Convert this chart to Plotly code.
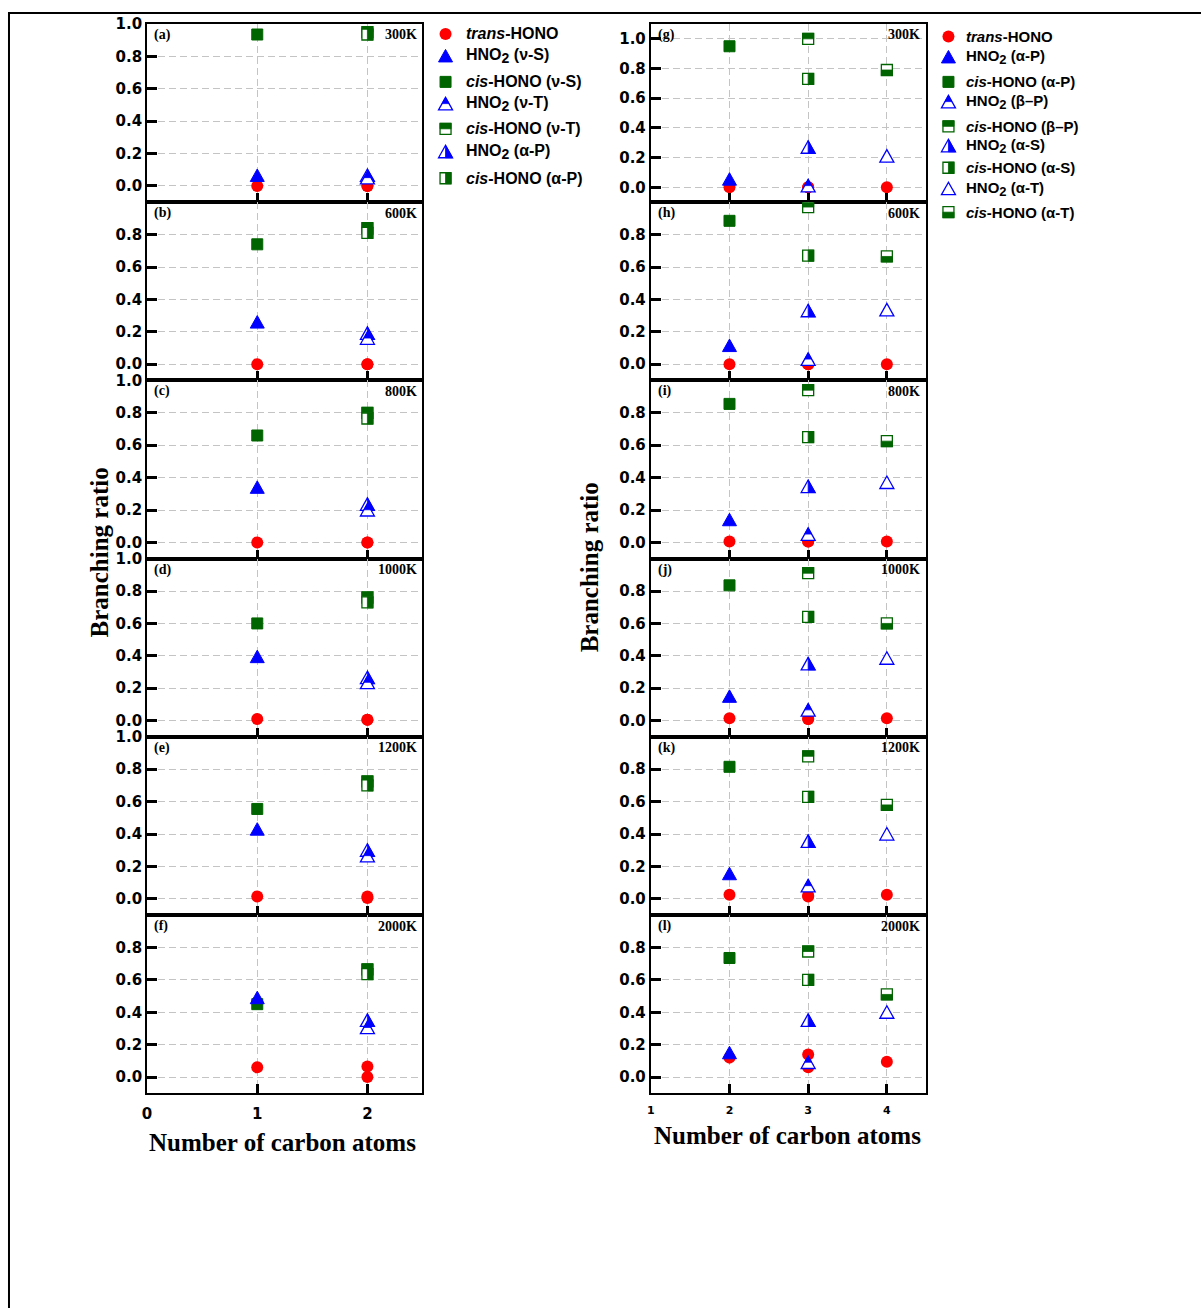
import plotly.graph_objects as go

W, H = 1201, 1308

temperatures = ["300K", "600K", "800K", "1000K", "1200K", "2000K"]
tags_left = ["(a)", "(b)", "(c)", "(d)", "(e)", "(f)"]
tags_right = ["(g)", "(h)", "(i)", "(j)", "(k)", "(l)"]

# ---- left column: C1 (nu-S) and C2 (nu-T, alpha-P) channels ----
trans_nuS = [0.0, 0.0, 0.0, 0.01, 0.015, 0.06]
hno2_nuS = [0.065, 0.26, 0.34, 0.395, 0.43, 0.49]
cis_nuS = [0.935, 0.74, 0.66, 0.60, 0.555, 0.45]

trans_nuT = [0.0, 0.0, 0.0, 0.005, 0.015, 0.065]
hno2_nuT = [0.05, 0.16, 0.20, 0.235, 0.265, 0.305]
cis_nuT = [0.95, 0.84, 0.80, 0.76, 0.725, 0.665]

trans_aP = [0.0, 0.0, 0.0, 0.005, 0.005, 0.0]
hno2_aP = [0.065, 0.19, 0.235, 0.265, 0.30, 0.35]
cis_aP = [0.935, 0.81, 0.765, 0.73, 0.70, 0.635]

# ---- right column: C2 (alpha-P), C3 (beta-P, alpha-S), C4 (alpha-T) ----
trans_aP_r = [0.0, 0.0, 0.005, 0.015, 0.025, 0.12]
hno2_aP_r = [0.055, 0.115, 0.14, 0.15, 0.155, 0.15]
cis_aP_r = [0.95, 0.885, 0.855, 0.835, 0.815, 0.735]

trans_bP = [0.0, 0.0, 0.005, 0.01, 0.02, 0.14]
hno2_bP = [0.01, 0.03, 0.05, 0.065, 0.08, 0.09]
cis_bP = [1.0, 0.97, 0.94, 0.91, 0.88, 0.775]

trans_aS = [0.0, 0.0, 0.005, 0.01, 0.015, 0.06]
hno2_aS = [0.27, 0.33, 0.345, 0.35, 0.355, 0.35]
cis_aS = [0.73, 0.67, 0.65, 0.64, 0.63, 0.60]

trans_aT = [0.0, 0.0, 0.005, 0.015, 0.025, 0.095]
hno2_aT = [0.21, 0.335, 0.37, 0.385, 0.40, 0.40]
cis_aT = [0.79, 0.665, 0.625, 0.60, 0.58, 0.51]

left_ticks_x = [0, 1, 2]
right_ticks_x = [1, 2, 3, 4]

RED, BLUE, GREEN = "#ff0000", "#0000ff", "#006400"

# series drawn in each column: (carbon number, values, symbol kind)
left_marks = [
    (1, cis_nuS, "sq_full"),
    (2, cis_nuT, "sq_top"),
    (2, cis_aP, "sq_right"),
    (1, hno2_nuS, "tri_full"),
    (2, hno2_aP, "tri_right"),
    (2, hno2_nuT, "tri_top"),
]
left_trans = [(1, trans_nuS), (2, trans_nuT), (2, trans_aP)]

right_marks = [
    (2, cis_aP_r, "sq_full"),
    (3, cis_bP, "sq_top"),
    (3, cis_aS, "sq_right"),
    (4, cis_aT, "sq_bottom"),
    (2, hno2_aP_r, "tri_full"),
    (3, hno2_aS, "tri_right"),
    (3, hno2_bP, "tri_top"),
    (4, hno2_aT, "tri_open"),
]
right_trans = [(2, trans_aP_r), (3, trans_bP), (3, trans_aS), (4, trans_aT)]


def hno2(ch, sz):
    return f"<b>HNO<sub><span style='font-size:{sz}px'>2</span></sub> ({ch})</b>"


def cis(ch):
    return f"<b><i>cis</i>-HONO ({ch})</b>"


TRANS = "<b><i>trans</i>-HONO</b>"

legend_left = [
    (TRANS, "circle"),
    (hno2("ν-S", 14), "tri_full"),
    (cis("ν-S"), "sq_full"),
    (hno2("ν-T", 14), "tri_top"),
    (cis("ν-T"), "sq_top"),
    (hno2("α-P", 14), "tri_right"),
    (cis("α-P"), "sq_right"),
]
legend_right = [
    (TRANS, "circle"),
    (hno2("α-P", 13), "tri_full"),
    (cis("α-P"), "sq_full"),
    (hno2("β–P", 13), "tri_top"),
    (cis("β–P"), "sq_top"),
    (hno2("α-S", 13), "tri_right"),
    (cis("α-S"), "sq_right"),
    (hno2("α-T", 13), "tri_open"),
    (cis("α-T"), "sq_bottom"),
]

# ---- symbol outlines in pixels (y up), used for the half-filled styles ----
def poly(pts):
    return "M " + " L ".join(f"{x:g} {y:g}" for x, y in pts) + " Z"

TA, TB, TW, SH = 6.5, 6.0, 7.0, 5.5
TRI = [(0, TA), (-TW, -TB), (TW, -TB)]
mid = (TA - TB) / 2
hw = TW * (TA - mid) / (TA + TB)
TRI_TOP = [(0, TA), (-hw, mid), (hw, mid)]
TRI_RIGHT = [(0, TA), (0, -TB), (TW, -TB)]
SQ = [(-SH, -SH), (SH, -SH), (SH, SH), (-SH, SH)]
SQ_TOP = [(-SH, 0), (SH, 0), (SH, SH), (-SH, SH)]
SQ_RIGHT = [(0, -SH), (SH, -SH), (SH, SH), (0, SH)]
SQ_BOTTOM = [(-SH, -SH), (SH, -SH), (SH, 0), (-SH, 0)]
PART = {"tri_top": TRI_TOP, "tri_right": TRI_RIGHT, "sq_top": SQ_TOP,
        "sq_right": SQ_RIGHT, "sq_bottom": SQ_BOTTOM}


def symbol_shapes(kind, xref, yref, xa, ya):
    base = dict(type="path", xref=xref, yref=yref, xsizemode="pixel",
                ysizemode="pixel", xanchor=xa, yanchor=ya, layer="above")
    if kind == "circle":
        return [dict(base, type="circle", x0=-6, x1=6, y0=-6, y1=6,
                     fillcolor=RED, line=dict(color=RED, width=0))]
    color = GREEN if kind.startswith("sq") else BLUE
    outline = SQ if kind.startswith("sq") else TRI
    if kind.endswith("full"):
        return [dict(base, path=poly(outline), fillcolor=color,
                     line=dict(color=color, width=1))]
    out = [dict(base, path=poly(outline), fillcolor="white",
                line=dict(color=color, width=1.3))]
    if kind in PART:
        out.append(dict(base, path=poly(PART[kind]), fillcolor=color,
                        line=dict(color=color, width=0.8)))
    return out


# page position (pixels from top-left) -> paper fraction
def px(x):
    return ((x - 4.5) / 0.998) / W


def py(y):
    return 1 - ((y - 8) / 0.9947) / H


fig = go.Figure()
shapes = []
annotations = []

row_edges = [23 + i * 178.5 for i in range(7)]
col_left = (146.9, 422.9)
col_right = (651.7, 927.7)

AX = dict(showline=True, linewidth=2, linecolor="black", mirror=True,
          ticks="inside", tickwidth=3, tickcolor="black", zeroline=False,
          showgrid=True, gridcolor="#c4c4c4", gridwidth=1, griddash="7px,4px")

layout_axes = {}
for col in range(2):
    for r in range(6):
        k = col * 6 + r + 1
        xn = "xaxis" if k == 1 else f"xaxis{k}"
        yn = "yaxis" if k == 1 else f"yaxis{k}"
        xr = "x" if k == 1 else f"x{k}"
        yr = "y" if k == 1 else f"y{k}"
        cx = col_left if col == 0 else col_right
        top, bot = row_edges[r], row_edges[r + 1]
        if col == 0:
            xrange = [0, 2.5]
            xt = left_ticks_x
            xfs = 15
        else:
            xrange = [1, 4.5]
            xt = right_ticks_x
            xfs = 11
        if col == 1 and r == 0:
            yrange = [-0.1, 1.1]
        else:
            yrange = [-0.1, 1.0]
        with_one = (col == 0 and r in (0, 2, 3, 4)) or (col == 1 and r == 0)
        yt = [0.0, 0.2, 0.4, 0.6, 0.8] + ([1.0] if with_one else [])
        layout_axes[xn] = dict(AX, domain=[px(cx[0]), px(cx[1])], range=xrange,
                               anchor=yr, tickvals=xt, ticklen=9,
                               ticktext=[str(v) for v in xt],
                               showticklabels=(r == 5), ticklabelstandoff=6,
                               tickfont=dict(family="DejaVu Sans", size=xfs,
                                             color="black", weight="bold"))
        layout_axes[yn] = dict(AX, domain=[py(bot), py(top)], range=yrange,
                               anchor=xr, tickvals=yt, ticklen=10,
                               ticktext=[f"{v:.1f}" for v in yt],
                               tickfont=dict(family="DejaVu Sans", size=15,
                                             color="black", weight="bold"))

        marks = left_marks if col == 0 else right_marks
        trans = left_trans if col == 0 else right_trans
        tx, ty = [], []
        for xv, vals in trans:
            tx.append(xv)
            ty.append(vals[r])
        fig.add_trace(go.Scatter(x=tx, y=ty, xaxis=xr, yaxis=yr, mode="markers",
                                 marker=dict(symbol="circle", size=12, color=RED),
                                 showlegend=False, hoverinfo="x+y"))
        for xv, vals, kind in marks:
            shapes += symbol_shapes(kind, xr, yr, xv, vals[r])

        tags = tags_left if col == 0 else tags_right
        annotations.append(dict(x=px(cx[0] + 5), y=py(top + 11), xref="paper",
                                yref="paper", xanchor="left", yanchor="middle",
                                text=f"<b>{tags[r]}</b>", showarrow=False,
                                font=dict(family="Liberation Serif", size=14,
                                          color="black")))
        annotations.append(dict(x=px(cx[1] - 4), y=py(top + 11), xref="paper",
                                yref="paper", xanchor="right", yanchor="middle",
                                text=f"<b>{temperatures[r]}</b>", showarrow=False,
                                font=dict(family="Liberation Serif", size=14,
                                          color="black")))

# legends built from symbol shapes and text labels
for entries, sx, tx0, rows, fs in [
    (legend_left, 446, 464, [33, 55, 81, 103, 128, 151, 177.5], 16),
    (legend_right, 950, 966, [35.5, 56, 81, 101, 125.5, 145, 167, 188, 211.5], 15),
]:
    for (label, kind), yy in zip(entries, rows):
        shapes += symbol_shapes(kind, "paper", "paper", px(sx), py(yy))
        annotations.append(dict(x=px(tx0), y=py(yy), xref="paper", yref="paper",
                                xanchor="left", yanchor="middle", text=label,
                                showarrow=False,
                                font=dict(family="Liberation Sans", size=fs,
                                          color="black")))

# axis titles
for xx, yy, txt, ang in [
    (99, 552, "Branching ratio", -90),
    (590, 567, "Branching ratio", -90),
    (283, 1143, "Number of carbon atoms", 0),
    (789, 1136, "Number of carbon atoms", 0),
]:
    annotations.append(dict(x=px(xx), y=py(yy), xref="paper", yref="paper",
                            xanchor="center", yanchor="middle", textangle=ang,
                            text=f"<b>{txt}</b>", showarrow=False,
                            font=dict(family="Liberation Serif", size=25,
                                      color="black")))

# page frame
shapes.append(dict(type="rect", xref="paper", yref="paper", x0=px(8.5), x1=1.05,
                   y0=-0.05, y1=py(12), line=dict(color="black", width=2),
                   layer="above"))

fig.update_layout(
    width=W, height=H, margin=dict(l=0, r=0, t=0, b=0),
    paper_bgcolor="white", plot_bgcolor="white", showlegend=False,
    shapes=shapes, annotations=annotations, **layout_axes,
)

fig.write_html("out.html")
